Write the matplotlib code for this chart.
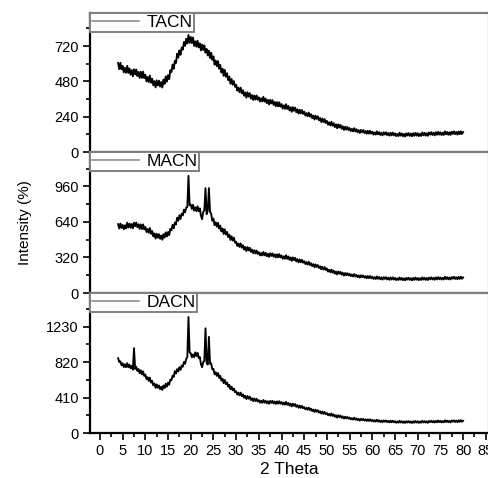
import numpy as np
import matplotlib
matplotlib.use('Agg')
import matplotlib.pyplot as plt
from matplotlib.lines import Line2D
from matplotlib.ticker import MultipleLocator

plt.rcParams['font.family'] = ['Liberation Sans', 'DejaVu Sans']

# 2 theta grid, 4 to 80 degrees every 0.25
two_theta = np.arange(4.0, 80.125, 0.25)

# Intensities (one line = 5 degrees, noise band included)
tacn = [605, 563, 606, 562, 585, 541, 572, 538, 585, 537, 568, 525, 557, 514, 562, 527, 560, 516, 544, 503,
        545, 503, 546, 502, 525, 480, 510, 475, 520, 470, 498, 453, 482, 439, 487, 452, 485, 444, 475, 438,
        492, 463, 514, 478, 522, 495, 556, 543, 594, 565, 620, 604, 668, 641, 690, 660, 710, 695, 748, 721,
        770, 737, 795, 742, 782, 740, 778, 721, 752, 715, 756, 711, 738, 690, 730, 693, 724, 675, 700, 656,
        688, 638, 675, 626, 650, 594, 622, 582, 618, 565, 592, 540, 566, 517, 558, 511, 535, 488, 512, 464,
        496, 457, 482, 443, 457, 417, 438, 406, 437, 398, 420, 382, 405, 369, 406, 376, 400, 363, 387, 354,
        384, 356, 384, 355, 372, 343, 365, 343, 375, 342, 363, 332, 354, 323, 355, 330, 352, 320, 340, 311,
        339, 310, 338, 308, 325, 295, 317, 293, 325, 292, 313, 282, 304, 273, 305, 280, 302, 270, 290, 261,
        287, 262, 285, 259, 274, 247, 264, 243, 268, 240, 257, 230, 248, 221, 247, 225, 242, 215, 231, 204,
        227, 202, 223, 197, 211, 185, 202, 181, 206, 178, 196, 169, 188, 161, 188, 166, 184, 158, 175, 150,
        172, 152, 170, 149, 163, 142, 157, 140, 162, 140, 155, 134, 149, 129, 150, 134, 149, 129, 143, 124,
        144, 125, 144, 124, 138, 118, 133, 118, 140, 120, 135, 116, 131, 113, 134, 119, 134, 115, 129, 111,
        131, 113, 132, 113, 127, 108, 123, 108, 131, 111, 126, 107, 123, 105, 127, 112, 128, 109, 125, 107,
        128, 110, 130, 111, 127, 108, 124, 109, 133, 113, 130, 111, 128, 110, 133, 118, 135, 116, 131, 113,
        135, 117, 137, 118, 134, 115, 131, 116, 140, 120, 136, 117, 134, 116, 138, 123, 140, 121, 136, 118,
        139, 121, 141, 122, 136]

macn = [620, 581, 626, 586, 613, 574, 610, 581, 633, 590, 625, 587, 622, 583, 634, 601, 635, 592, 619, 578,
        618, 576, 618, 573, 595, 549, 578, 542, 585, 533, 558, 510, 537, 490, 534, 498, 530, 488, 517, 480,
        530, 499, 546, 509, 550, 521, 578, 565, 614, 583, 635, 617, 678, 651, 700, 667, 715, 699, 751, 726,
        770, 775, 1055, 790, 797, 757, 795, 743, 772, 737, 781, 736, 763, 695, 665, 730, 745, 945, 710, 740,
        945, 730, 715, 651, 670, 611, 637, 597, 633, 580, 607, 555, 581, 532, 574, 527, 550, 503, 526, 478,
        511, 472, 498, 454, 462, 424, 446, 415, 447, 408, 430, 392, 415, 378, 414, 384, 408, 370, 392, 358,
        386, 356, 383, 352, 368, 339, 361, 338, 370, 339, 361, 331, 354, 325, 358, 334, 357, 327, 348, 320,
        349, 321, 350, 321, 338, 309, 331, 308, 340, 308, 329, 299, 321, 290, 321, 296, 317, 285, 305, 276,
        302, 277, 299, 273, 287, 261, 278, 256, 281, 252, 269, 242, 260, 232, 258, 235, 252, 225, 241, 214,
        237, 211, 233, 207, 221, 193, 209, 187, 211, 183, 201, 174, 193, 167, 194, 173, 191, 165, 182, 157,
        180, 160, 179, 159, 173, 152, 166, 149, 171, 149, 164, 143, 158, 139, 160, 143, 158, 138, 152, 133,
        153, 134, 153, 133, 147, 127, 142, 126, 149, 128, 144, 124, 140, 121, 143, 127, 143, 123, 138, 119,
        140, 121, 141, 121, 136, 117, 132, 117, 140, 120, 135, 116, 132, 114, 136, 121, 137, 118, 133, 115,
        136, 118, 139, 120, 135, 116, 133, 118, 141, 121, 137, 118, 135, 117, 139, 124, 141, 122, 137, 119,
        141, 123, 143, 124, 140, 121, 137, 122, 146, 126, 142, 123, 140, 122, 144, 129, 146, 127, 142, 124,
        145, 127, 147, 128, 140]

dacn = [865, 820, 828, 783, 805, 762, 793, 760, 807, 760, 790, 748, 777, 732, 980, 740, 765, 717, 739, 691,
        725, 677, 713, 660, 675, 623, 645, 602, 640, 583, 603, 550, 572, 522, 562, 522, 550, 506, 534, 498,
        550, 521, 571, 537, 582, 557, 618, 610, 664, 648, 715, 687, 738, 711, 760, 730, 780, 766, 821, 800,
        855, 880, 1340, 930, 922, 875, 908, 876, 932, 890, 926, 866, 878, 795, 760, 820, 835, 1210, 810, 790,
        1110, 800, 805, 736, 740, 679, 702, 660, 693, 637, 662, 606, 628, 576, 614, 564, 585, 535, 556, 506,
        536, 494, 515, 472, 482, 444, 466, 435, 467, 426, 447, 408, 430, 393, 428, 397, 420, 381, 402, 369,
        399, 369, 396, 365, 380, 351, 373, 350, 382, 351, 373, 344, 367, 338, 371, 348, 372, 342, 364, 337,
        366, 339, 368, 340, 358, 330, 352, 328, 360, 327, 348, 317, 339, 308, 339, 314, 335, 303, 322, 292,
        317, 291, 313, 287, 301, 274, 291, 269, 294, 265, 282, 254, 272, 244, 270, 247, 264, 236, 252, 225,
        248, 222, 244, 217, 231, 205, 222, 201, 226, 198, 215, 188, 206, 179, 206, 184, 202, 175, 192, 167,
        189, 169, 187, 166, 179, 158, 172, 155, 177, 155, 170, 149, 164, 144, 165, 149, 164, 144, 158, 139,
        159, 140, 159, 139, 153, 133, 148, 132, 154, 133, 148, 128, 144, 125, 146, 131, 146, 127, 141, 123,
        143, 124, 143, 124, 138, 119, 134, 119, 142, 122, 137, 118, 134, 116, 137, 122, 138, 119, 134, 116,
        137, 119, 140, 121, 136, 117, 134, 119, 142, 122, 139, 120, 136, 118, 141, 126, 142, 123, 139, 121,
        142, 124, 145, 126, 141, 122, 139, 124, 147, 127, 144, 125, 141, 123, 146, 131, 147, 128, 144, 126,
        147, 129, 150, 131, 142]

names = ['TACN', 'MACN', 'DACN']
series = [tacn, macn, dacn]
y_max = [945, 1270, 1617]
y_step = [240, 320, 410]

fig = plt.figure(figsize=(4.89, 4.78), dpi=100)

# panel positions in figure fraction (top, middle, bottom)
panels = [[0.184, 0.682, 0.815, 0.291],
          [0.184, 0.387, 0.815, 0.295],
          [0.184, 0.094, 0.815, 0.293]]

for i in range(3):
    ax = fig.add_axes(panels[i])
    ax.plot(two_theta, series[i], color='black', lw=1.35)
    ax.set_xlim(-2.2, 85.6)
    ax.set_ylim(0, y_max[i])
    ax.yaxis.set_major_locator(MultipleLocator(y_step[i]))
    ax.yaxis.set_minor_locator(MultipleLocator(y_step[i] / 2))
    ax.xaxis.set_major_locator(MultipleLocator(5))
    ax.xaxis.set_minor_locator(MultipleLocator(2.5))
    ax.tick_params(axis='y', which='major', direction='out', length=5, width=1.2, labelsize=10.5, pad=3)
    ax.tick_params(axis='y', which='minor', direction='out', length=3, width=1.2)
    for side in ['top', 'right', 'bottom']:
        ax.spines[side].set_color('#808080')
        ax.spines[side].set_linewidth(1.6)
    ax.spines['left'].set_color('black')
    ax.spines['left'].set_linewidth(1.6)
    if i < 2:
        ax.tick_params(axis='x', which='both', bottom=False, labelbottom=False)
    else:
        ax.spines['bottom'].set_color('black')
        ax.tick_params(axis='x', which='major', direction='out', length=5, width=1.2, labelsize=10.5, pad=3)
        ax.tick_params(axis='x', which='minor', direction='out', length=3, width=1.2)
        ax.set_xlabel('2 Theta', fontsize=12.5, labelpad=3)
    handle = Line2D([], [], color='#909090', lw=1.2)
    leg = ax.legend([handle], [names[i]], loc='upper left', bbox_to_anchor=(0, 1), borderaxespad=0,
                    fontsize=12.5, handlelength=2.7, handletextpad=0.45, borderpad=0.1,
                    fancybox=False, framealpha=1, edgecolor='#808080')
    leg.get_frame().set_linewidth(1.4)
    if i == 1:
        ax.set_ylabel('Intensity (%)', fontsize=11)
        ax.yaxis.set_label_coords(-0.145, 0.5)

fig.savefig('out.png', dpi=100)
